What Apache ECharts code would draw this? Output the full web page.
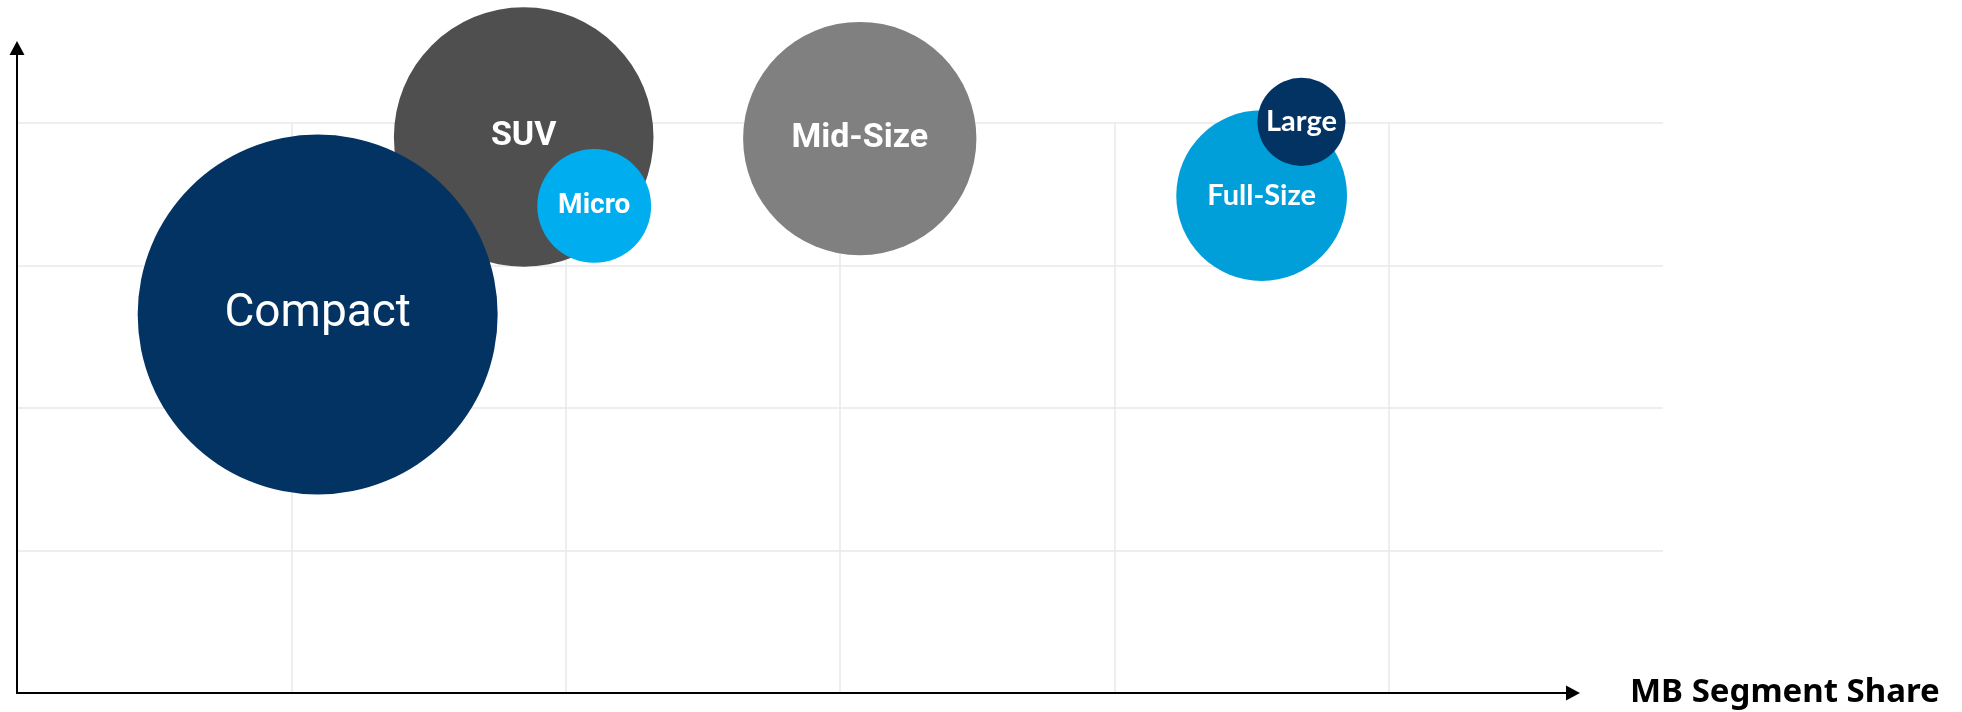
<!DOCTYPE html>
<html>
<head>
<meta charset="utf-8">
<script src="https://cdn.jsdelivr.net/npm/echarts@6/dist/echarts.min.js"></script>
<style>
  html, body { margin: 0; padding: 0; background: #ffffff; }
  #chart { width: 1962px; height: 712px; }
</style>
</head>
<body>
<div id="chart"></div>
<script>
// Vehicle segments plotted as bubbles
const segments = ['SUV', 'Compact', 'Micro', 'Mid-Size', 'Full-Size', 'Large'];
// Horizontal position: MB segment share
const segmentShare = [1.847, 1.096, 2.104, 3.072, 4.537, 4.682];
// Vertical position
const segmentLevel = [3.902, 2.656, 3.418, 3.891, 3.491, 4.008];
// Bubble area value (segment volume)
const segmentVolume = [52, 100, 10, 42, 22.5, 6];
const xAxisTitle = 'MB Segment Share';

// Colours and label styles per segment
const segmentStyle = {
  'SUV':       { color: '#4f4f4f', font: 'Roboto', size: 34, weight: 'bold', offset: [0, -7] },
  'Compact':   { color: '#033363', font: 'Roboto', size: 46, weight: 'normal', offset: [0, 4] },
  'Micro':     { color: '#00aeef', font: 'Roboto', size: 28, weight: 'bold', offset: [0, 2] },
  'Mid-Size':  { color: '#808080', font: 'Roboto', size: 34, weight: 'bold', offset: [0, 1] },
  'Full-Size': { color: '#009fda', font: 'Lato', size: 29, weight: 'bold', offset: [0, 1] },
  'Large':     { color: '#033363', font: 'Lato', size: 29, weight: 'bold', offset: [0, -7] }
};

const bubbleScale = 36; // diameter in px per sqrt(volume)

const bubbleData = segments.map((name, i) => {
  const s = segmentStyle[name];
  return {
    name: name,
    value: [segmentShare[i], segmentLevel[i], segmentVolume[i]],
    itemStyle: { color: s.color, opacity: 1 },
    label: {
      show: true,
      position: 'inside',
      formatter: '{b}',
      color: '#ffffff',
      fontFamily: s.font,
      fontSize: s.size,
      fontWeight: s.weight,
      offset: s.offset
    }
  };
});

const chart = echarts.init(document.getElementById('chart'), null, { renderer: 'canvas' });

const gridLine = { show: true, lineStyle: { color: '#e8e8e8', width: 1.5 } };

chart.setOption({
  animation: false,
  backgroundColor: '#ffffff',
  grid: [
    // plotting area with grid lines
    { left: 17, top: 123, width: 1646, height: 570, containLabel: false },
    // frame that carries the arrowed axis lines
    { left: 17, top: 48, width: 1556, height: 645, containLabel: false }
  ],
  xAxis: [
    {
      type: 'value', gridIndex: 0, min: 0, max: 6, interval: 1,
      axisLine: { show: false }, axisTick: { show: false }, axisLabel: { show: false },
      splitLine: Object.assign({ showMinLine: false, showMaxLine: false }, gridLine)
    },
    {
      type: 'value', gridIndex: 1, min: 0, max: 1,
      axisLine: {
        show: true, onZero: false,
        symbol: ['none', 'triangle'], symbolSize: [15, 14],
        lineStyle: { color: '#000000', width: 2 }
      },
      axisTick: { show: false }, axisLabel: { show: false }, splitLine: { show: false },
      name: xAxisTitle,
      nameLocation: 'end',
      nameGap: 57,
      nameTextStyle: {
        color: '#000000', fontFamily: 'Noto Sans', fontSize: 33, fontWeight: 'bold',
        align: 'left', verticalAlign: 'middle'
      }
    }
  ],
  yAxis: [
    {
      type: 'value', gridIndex: 0, min: 0, max: 4, interval: 1,
      axisLine: { show: false }, axisTick: { show: false }, axisLabel: { show: false },
      splitLine: Object.assign({ showMinLine: false, showMaxLine: true }, gridLine)
    },
    {
      type: 'value', gridIndex: 1, min: 0, max: 1,
      axisLine: {
        show: true, onZero: false,
        symbol: ['none', 'triangle'], symbolSize: [15, 14],
        lineStyle: { color: '#000000', width: 2 }
      },
      axisTick: { show: false }, axisLabel: { show: false }, splitLine: { show: false }
    }
  ],
  series: [
    {
      type: 'scatter',
      xAxisIndex: 0,
      yAxisIndex: 0,
      clip: false,
      symbol: 'circle',
      symbolSize: function (val) { return bubbleScale * Math.sqrt(val[2]); },
      data: bubbleData,
      emphasis: { disabled: true },
      labelLayout: { hideOverlap: false }
    }
  ]
});
</script>
</body>
</html>
